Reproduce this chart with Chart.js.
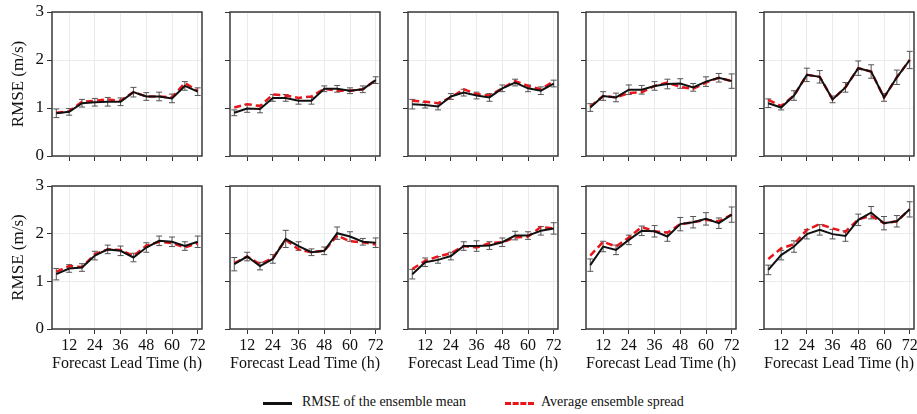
<!DOCTYPE html>
<html>
<head>
<meta charset="utf-8">
<script src="https://cdn.jsdelivr.net/npm/chart.js@4.4.1/dist/chart.umd.min.js"></script>
<style>
  html, body { margin: 0; padding: 0; background: #fff; overflow: hidden; }
  #wrap { position: relative; width: 917px; height: 414px; overflow: hidden; font-family: "Liberation Serif", "Times New Roman", serif; }
  canvas { position: absolute; }
  .leg { position: absolute; top: 394px; font-size: 14px; color: #111; white-space: nowrap; }
  .sw { position: absolute; top: 402px; width: 29px; height: 0; }
</style>
</head>
<body>
<div id="wrap">
  <div class="sw" style="left:263px;border-top:3px solid #111;"></div>
  <div class="leg" style="left:302px;">RMSE of the ensemble mean</div>
  <div class="sw" style="left:505px;border-top:3px dashed #e8161b;"></div>
  <div class="leg" style="left:541px;">Average ensemble spread</div>
</div>
<script>
// lead times (h)
var hours = [6, 12, 18, 24, 30, 36, 42, 48, 54, 60, 66, 72];
var xTicks = [12, 24, 36, 48, 60, 72];

// top row
var rmse1 = [0.89, 0.92, 1.10, 1.12, 1.13, 1.13, 1.33, 1.24, 1.24, 1.20, 1.46, 1.34];
var spread1 = [0.90, 0.93, 1.13, 1.15, 1.18, 1.15, 1.33, 1.24, 1.24, 1.22, 1.52, 1.36];
var err1 = [0.09, 0.07, 0.08, 0.08, 0.09, 0.08, 0.10, 0.08, 0.09, 0.09, 0.09, 0.08];

var rmse2 = [0.90, 0.99, 0.98, 1.21, 1.21, 1.15, 1.15, 1.40, 1.40, 1.36, 1.39, 1.58];
var spread2 = [1.01, 1.08, 1.04, 1.28, 1.26, 1.21, 1.24, 1.40, 1.36, 1.36, 1.39, 1.58];
var err2 = [0.06, 0.08, 0.08, 0.07, 0.07, 0.07, 0.07, 0.06, 0.07, 0.06, 0.07, 0.07];

var rmse3 = [1.08, 1.06, 1.03, 1.24, 1.32, 1.26, 1.22, 1.41, 1.53, 1.41, 1.36, 1.51];
var spread3 = [1.15, 1.13, 1.10, 1.22, 1.39, 1.29, 1.26, 1.41, 1.56, 1.46, 1.39, 1.56];
var err3 = [0.10, 0.06, 0.07, 0.06, 0.07, 0.07, 0.08, 0.07, 0.07, 0.07, 0.08, 0.07];

var rmse4 = [1.01, 1.25, 1.22, 1.38, 1.38, 1.46, 1.50, 1.51, 1.43, 1.55, 1.63, 1.56];
var spread4 = [1.03, 1.25, 1.22, 1.31, 1.33, 1.46, 1.53, 1.44, 1.40, 1.53, 1.63, 1.56];
var err4 = [0.08, 0.09, 0.09, 0.10, 0.09, 0.09, 0.10, 0.10, 0.08, 0.10, 0.09, 0.15];

var rmse5 = [1.10, 1.01, 1.26, 1.69, 1.65, 1.18, 1.43, 1.83, 1.76, 1.22, 1.64, 2.00];
var spread5 = [1.17, 1.04, 1.26, 1.69, 1.65, 1.18, 1.43, 1.83, 1.76, 1.22, 1.64, 2.00];
var err5 = [0.09, 0.05, 0.10, 0.14, 0.13, 0.07, 0.10, 0.15, 0.14, 0.08, 0.15, 0.18];

// bottom row
var rmse6 = [1.15, 1.27, 1.29, 1.54, 1.67, 1.64, 1.50, 1.71, 1.85, 1.83, 1.74, 1.83];
var spread6 = [1.20, 1.32, 1.30, 1.57, 1.67, 1.66, 1.53, 1.75, 1.83, 1.80, 1.71, 1.80];
var err6 = [0.12, 0.08, 0.08, 0.09, 0.09, 0.10, 0.09, 0.10, 0.10, 0.10, 0.09, 0.12];

var rmse7 = [1.36, 1.52, 1.32, 1.47, 1.89, 1.74, 1.61, 1.64, 2.01, 1.94, 1.83, 1.81];
var spread7 = [1.38, 1.52, 1.36, 1.49, 1.87, 1.67, 1.61, 1.64, 1.96, 1.84, 1.82, 1.77];
var err7 = [0.14, 0.09, 0.08, 0.09, 0.18, 0.09, 0.07, 0.08, 0.13, 0.10, 0.07, 0.10];

var rmse8 = [1.15, 1.40, 1.45, 1.53, 1.74, 1.74, 1.75, 1.82, 1.96, 1.96, 2.06, 2.11];
var spread8 = [1.26, 1.43, 1.52, 1.59, 1.74, 1.71, 1.80, 1.82, 1.92, 1.94, 2.14, 2.11];
var err8 = [0.10, 0.09, 0.07, 0.08, 0.09, 0.11, 0.08, 0.09, 0.09, 0.08, 0.09, 0.12];

var rmse9 = [1.34, 1.73, 1.66, 1.87, 2.06, 2.05, 1.94, 2.20, 2.24, 2.31, 2.22, 2.40];
var spread9 = [1.54, 1.83, 1.73, 1.92, 2.14, 2.05, 2.02, 2.20, 2.24, 2.29, 2.26, 2.40];
var err9 = [0.13, 0.11, 0.10, 0.10, 0.10, 0.12, 0.10, 0.14, 0.12, 0.13, 0.11, 0.16];

var rmse10 = [1.24, 1.55, 1.73, 1.99, 2.08, 1.99, 1.95, 2.29, 2.44, 2.22, 2.26, 2.51];
var spread10 = [1.47, 1.69, 1.78, 2.08, 2.20, 2.11, 2.04, 2.30, 2.37, 2.22, 2.26, 2.51];
var err10 = [0.10, 0.10, 0.12, 0.10, 0.11, 0.10, 0.11, 0.12, 0.13, 0.14, 0.12, 0.16];

var panels = [
  [rmse1, spread1, err1], [rmse2, spread2, err2], [rmse3, spread3, err3], [rmse4, spread4, err4], [rmse5, spread5, err5],
  [rmse6, spread6, err6], [rmse7, spread7, err7], [rmse8, spread8, err8], [rmse9, spread9, err9], [rmse10, spread10, err10]
];

var plotLefts = [52, 230, 408, 586, 764];
var plotTops = [12, 186];
var font = "Liberation Serif";
var padTop = 15;

// error bars on the RMSE line, plus the frame around the plot
var errorBars = {
  id: 'errorBars',
  beforeDatasetsDraw: function(chart) {
    var errs = chart.options.plugins.errorBars.errs;
    var ds = chart.data.datasets[0].data;
    var xs = chart.scales.x, ys = chart.scales.y, ctx = chart.ctx;
    ctx.save();
    ctx.strokeStyle = '#555';
    ctx.lineWidth = 1;
    for (var i = 0; i < ds.length; i++) {
      var px = xs.getPixelForValue(ds[i].x);
      var y1 = ys.getPixelForValue(ds[i].y - errs[i]);
      var y2 = ys.getPixelForValue(ds[i].y + errs[i]);
      ctx.beginPath();
      ctx.moveTo(px, y1); ctx.lineTo(px, y2);
      ctx.moveTo(px - 3, y1); ctx.lineTo(px + 3, y1);
      ctx.moveTo(px - 3, y2); ctx.lineTo(px + 3, y2);
      ctx.stroke();
    }
    ctx.restore();
  },
  afterDraw: function(chart) {
    var a = chart.chartArea, ctx = chart.ctx;
    ctx.save();
    ctx.strokeStyle = '#3a3a3a';
    ctx.lineWidth = 1.5;
    ctx.strokeRect(a.left, a.top, a.right - a.left, a.bottom - a.top);
    ctx.restore();
  }
};

function pts(vals) {
  var out = [];
  for (var i = 0; i < hours.length; i++) out.push({x: hours[i], y: vals[i]});
  return out;
}

var wrap = document.getElementById('wrap');

panels.forEach(function(p, k) {
  var row = Math.floor(k / 5), col = k % 5;
  var bottomRow = row === 1;
  var firstCol = col === 0;
  var cv = document.createElement('canvas');
  var w = 52 + 150 + 8;
  var plotH = bottomRow ? 143 : 144;
  var xH = bottomRow ? 46 : 15;
  var h = padTop + plotH + xH;
  cv.width = w; cv.height = h;
  cv.style.width = w + 'px'; cv.style.height = h + 'px';
  cv.style.left = (plotLefts[col] - 52) + 'px';
  cv.style.top = (plotTops[row] - padTop) + 'px';
  wrap.appendChild(cv);

  new Chart(cv, {
    type: 'line',
    data: {
      datasets: [
        {
          label: 'RMSE of the ensemble mean',
          data: pts(p[0]),
          borderColor: '#111',
          borderWidth: 2,
          pointRadius: 0,
          tension: 0,
          fill: false
        },
        {
          label: 'Average ensemble spread',
          data: pts(p[1]),
          borderColor: '#e8161b',
          borderWidth: 2.5,
          borderDash: [7, 4],
          pointRadius: 0,
          tension: 0,
          fill: false
        }
      ]
    },
    options: {
      responsive: false,
      animation: false,
      events: [],
      layout: { padding: { top: padTop, right: 8, left: 0, bottom: 0 } },
      plugins: {
        legend: { display: false },
        tooltip: { enabled: false },
        errorBars: { errs: p[2] }
      },
      scales: {
        x: {
          type: 'linear',
          min: 4,
          max: 74,
          afterBuildTicks: function(s) { s.ticks = xTicks.map(function(v) { return {value: v}; }); },
          afterFit: function(s) { s.height = xH; },
          grid: { color: '#ebebeb', tickColor: '#333', tickLength: 5, lineWidth: 1 },
          border: { display: false },
          ticks: { display: bottomRow, maxRotation: 0, padding: 2, color: '#111', font: { family: font, size: 16 } },
          title: {
            display: bottomRow,
            text: 'Forecast Lead Time (h)',
            color: '#111',
            font: { family: font, size: 16 },
            padding: { top: 0, bottom: 2 }
          }
        },
        y: {
          min: 0,
          max: 3,
          afterFit: function(s) { s.width = 52; },
          grid: { color: '#ebebeb', tickColor: '#333', tickLength: 5, lineWidth: 1 },
          border: { display: false },
          ticks: { display: firstCol, stepSize: 1, padding: 3, color: '#111', font: { family: font, size: 17 } },
          title: {
            display: firstCol,
            text: 'RMSE (m/s)',
            color: '#111',
            font: { family: font, size: 17 },
            padding: { top: 8, bottom: 0 }
          }
        }
      }
    },
    plugins: [errorBars]
  });
});
</script>
</body>
</html>
